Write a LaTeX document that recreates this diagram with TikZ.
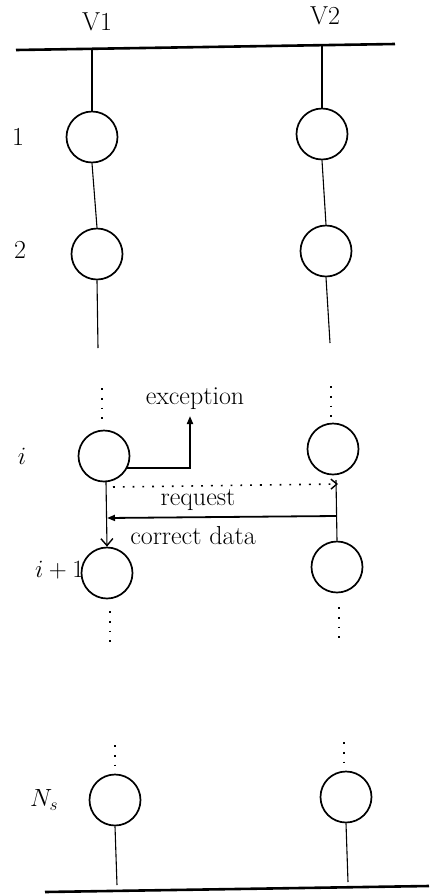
\documentclass[tikz,border=0pt]{standalone}
\usetikzlibrary{arrows.meta}
\begin{document}
\begin{tikzpicture}[x=1pt,y=-1pt,
  site/.style={draw,circle,line width=1.7pt,minimum size=51pt,inner sep=0pt},
  wire/.style={line width=1.1pt},
  bus/.style={line width=2.6pt},
  msg/.style={line width=1.8pt},
  dotcol/.style={line width=1.8pt,dash pattern=on 1.8pt off 8pt},
  lbl/.style={font=\fontsize{26}{30}\selectfont,inner sep=0pt}
]
\useasboundingbox (0,0) rectangle (429,895);

% buses at top and bottom
\coordinate (tl) at (16,50);  \coordinate (tr) at (395,44);
\coordinate (bl) at (45,892); \coordinate (br) at (429,886);
\draw[bus] (tl) -- (tr);
\draw[bus] (bl) -- (br);

% column labels
\node[lbl] (v1) at (97,22) {V1};
\node[lbl] (v2) at (325,16) {V2};

% sites of the left column
\node[site] (L1)  at (92,137) {};
\node[site] (L2)  at (97,254) {};
\node[site] (Li)  at (104,456) {};
\node[site] (Li1) at (107,573) {};
\node[site] (LN)  at (115,800) {};

% sites of the right column
\node[site] (R1)  at (322,134) {};
\node[site] (R2)  at (326,251) {};
\node[site] (Ri)  at (333,449) {};
\node[site] (Ri1) at (337,567) {};
\node[site] (RN)  at (346,797) {};

% row labels
\node[lbl] (r1) at (18,137) {1};
\node[lbl] (r2) at (20,250) {2};
\node[lbl,anchor=center] (ri) at (22,456) {$i$};
\node[lbl,anchor=east] (ri1) at (84,570) {$i+1$};
\node[lbl] (rN) at (44,800) {$N_s$};

% left column wiring
\coordinate (ltop) at (92,50);
\coordinate (lend2) at (98,348);
\coordinate (lbot) at (117,885);
\draw[wire] (ltop) -- (L1.north);
\draw[wire] (L1.south) -- (L2.north);
\draw[wire] (L2.south) -- (lend2);
\draw[dotcol] (102,388) -- (102,422);
\draw[dotcol] (110,611) -- (110,645);
\draw[dotcol] (115,745) -- (115,770);
\draw[wire] (LN.south) -- (lbot);

% right column wiring
\coordinate (rtop) at (322,46);
\coordinate (rend2) at (330,343);
\coordinate (rbot) at (348,882);
\draw[wire] (rtop) -- (R1.north);
\draw[wire] (R1.south) -- (R2.north);
\draw[wire] (R2.south) -- (rend2);
\draw[dotcol] (331,386) -- (331,420);
\draw[dotcol] (339,607) -- (339,641);
\draw[dotcol] (344,742) -- (344,767);
\draw[wire] (RN.south) -- (rbot);

% exception raised at site i of V1
\coordinate (exc) at (190,416);
\node[lbl,anchor=south] (exctext) at (195,410) {exception};
\draw[msg,-{Triangle[length=8pt,width=6pt]}] (Li.-28) -| (exc);

% request from V1 to V2
\coordinate (lq) at (106,482);
\coordinate (rq) at (336,480);
\draw[wire,-{Straight Barb[length=7pt,width=12pt,line width=1.4pt]}] (lq) -- (Li1.north);
\draw[wire] (rq) -- (Ri1.north);
\coordinate (qs) at (113,487);
\coordinate (qe) at (338,484);
\draw[dotcol,line width=1.6pt,-{Straight Barb[length=6pt,width=10pt,line width=1.4pt]}] (qs) -- (qe);
\node[lbl] (reqtext) at (198,500) {request};

% correct data sent back to V1
\coordinate (ds) at (336,516);
\coordinate (de) at (107,518);
\draw[msg,-{Triangle[length=8pt,width=6pt]}] (ds) -- (de);
\node[lbl] (datatext) at (193,536) {correct data};
\end{tikzpicture}
\end{document}
